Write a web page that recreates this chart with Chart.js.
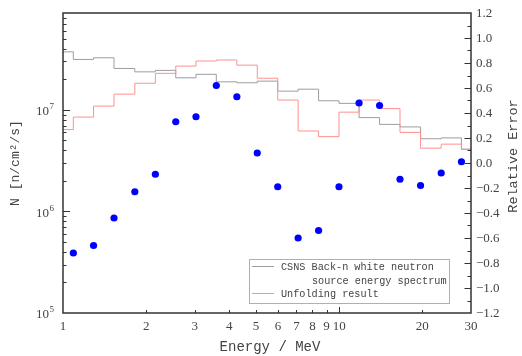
<!DOCTYPE html>
<html>
<head>
<meta charset="utf-8">
<script src="https://cdn.jsdelivr.net/npm/chart.js@4.4.1/dist/chart.umd.min.js"></script>
<style>
  html, body { margin: 0; padding: 0; background: #fff; }
  #wrap { position: relative; width: 522px; height: 356px; }
</style>
</head>
<body>
<div id="wrap"><canvas id="chart"></canvas></div>
<script>
// Energy bins (MeV): start of each bin, last bin runs to the axis end
const binStarts = [1, 1.09, 1.29, 1.53, 1.82, 2.16, 2.56, 3.03, 3.59, 4.26, 5.05,
                   5.99, 7.10, 8.42, 9.98, 11.8, 14.0, 16.6, 19.7, 23.4, 27.7];
const binEnd = 30;

// N [n/cm2/s] per bin
const spectrumFlux = [3.73e7, 3.14e7, 3.26e7, 2.56e7, 2.37e7, 2.45e7, 2.07e7, 2.24e7, 1.89e7, 1.85e7, 1.92e7,
                      1.53e7, 1.60e7, 1.23e7, 1.16e7, 8.4e6, 7.2e6, 6.8e6, 5.2e6, 5.3e6, 4.1e6];
const unfoldedFlux = [6.4e6, 8.5e6, 1.09e7, 1.43e7, 1.83e7, 2.29e7, 2.70e7, 3.03e7, 3.10e7, 2.76e7, 2.05e7,
                      1.25e7, 6.2e6, 5.45e6, 9.5e6, 1.25e7, 1.03e7, 6.0e6, 4.2e6, 4.6e6, 4.1e6];

// relative error, one point at each inner bin edge
const errorEnergy = binStarts.slice(1);
const relError = [-0.72, -0.66, -0.44, -0.23, -0.09, 0.33, 0.37, 0.62, 0.53, 0.08,
                  -0.19, -0.60, -0.54, -0.19, 0.48, 0.46, -0.13, -0.18, -0.08, 0.01];

// Tick labels
const xTickValues = [1, 2, 3, 4, 5, 6, 7, 8, 9, 10, 20, 30];
const xTickLabels = ['1', '2', '3', '4', '5', '6', '7', '8', '9', '10', '20', '30'];
const yTickExponents = [5, 6, 7];
const errTickValues = [1.2, 1.0, 0.8, 0.6, 0.4, 0.2, 0.0, -0.2, -0.4, -0.6, -0.8, -1.0, -1.2];
const errTickLabels = ['1.2', '1.0', '0.8', '0.6', '0.4', '0.2', '0.0',
                       '\u22120.2', '\u22120.4', '\u22120.6', '\u22120.8', '\u22121.0', '\u22121.2'];

const legendLabels = ['CSNS Back-n white neutron', 'source energy spectrum', 'Unfolding result'];

const GRAY = '#9d9d9d';
const RED = '#ff9090';
const BLUE = '#0000ff';
const INK = '#444';
const SERIF = '"Liberation Serif", serif';
const MONO = '"Liberation Mono", monospace';

function stepData(values) {
    const pts = binStarts.map((x, i) => ({ x: x, y: values[i] }));
    pts.push({ x: binEnd, y: values[values.length - 1] });
    return pts;
}

const sup = { 5: '\u2075', 6: '\u2076', 7: '\u2077' };

// frame, inward ticks, labels, titles and legend
const decorations = {
    id: 'decorations',
    afterDraw(chart) {
        const ctx = chart.ctx;
        const a = chart.chartArea;
        const xs = chart.scales.x, ys = chart.scales.y, es = chart.scales.y2;
        ctx.save();

        // frame
        ctx.strokeStyle = '#333';
        ctx.lineWidth = 1.5;
        ctx.strokeRect(a.left, a.top, a.right - a.left, a.bottom - a.top);

        ctx.lineWidth = 1;
        ctx.beginPath();
        // bottom ticks
        xTickValues.forEach(v => {
            if (v === 1 || v === 30) return;
            const px = Math.round(xs.getPixelForValue(v)) + 0.5;
            const len = (v === 10) ? 6 : 3;
            ctx.moveTo(px, a.bottom);
            ctx.lineTo(px, a.bottom - len);
        });
        // left log ticks
        for (let e = 5; e <= 7; e++) {
            for (let m = 1; m <= 9; m++) {
                const v = m * Math.pow(10, e);
                if (v <= 1e5 || v >= 9e7) continue;
                const py = Math.round(ys.getPixelForValue(v)) + 0.5;
                const len = (m === 1) ? 7 : 3.5;
                ctx.moveTo(a.left, py);
                ctx.lineTo(a.left + len, py);
            }
        }
        // right linear ticks
        for (let k = -11; k <= 11; k++) {
            const v = k / 10;
            const py = Math.round(es.getPixelForValue(v)) + 0.5;
            const len = (k % 2 === 0) ? 6.5 : 3.5;
            ctx.moveTo(a.right, py);
            ctx.lineTo(a.right - len, py);
        }
        ctx.stroke();

        ctx.fillStyle = INK;
        ctx.textBaseline = 'middle';

        // x tick labels
        ctx.font = '13px ' + SERIF;
        ctx.textAlign = 'center';
        xTickValues.forEach((v, i) => {
            ctx.fillText(xTickLabels[i], xs.getPixelForValue(v), a.bottom + 14);
        });

        // left tick labels 10^n
        yTickExponents.forEach(e => {
            const py = ys.getPixelForValue(Math.pow(10, e));
            ctx.textAlign = 'right';
            ctx.font = '9px ' + SERIF;
            const expW = ctx.measureText(String(e)).width;
            ctx.fillText(String(e), 54, py - 3);
            ctx.font = '13px ' + SERIF;
            ctx.fillText('10', 54 - expW - 0.5, py + 2);
        });

        // right tick labels
        ctx.textAlign = 'left';
        ctx.font = '13px ' + SERIF;
        errTickValues.forEach((v, i) => {
            ctx.fillText(errTickLabels[i], a.right + 5, es.getPixelForValue(v) + 1);
        });

        // axis titles
        ctx.font = '14px ' + MONO;
        ctx.textAlign = 'center';
        ctx.fillText('Energy / MeV', (a.left + a.right) / 2 + 3, 347);

        ctx.save();
        ctx.translate(16, (a.top + a.bottom) / 2);
        ctx.rotate(-Math.PI / 2);
        ctx.font = '13px ' + MONO;
        ctx.fillText('N [n/cm\u00b2/s]', 0, 0);
        ctx.restore();

        ctx.save();
        ctx.translate(513, 156);
        ctx.rotate(-Math.PI / 2);
        ctx.font = '13.5px ' + MONO;
        ctx.fillText('Relative Error', 0, 0);
        ctx.restore();

        // legend
        const lx = 249.5, ly = 259.5, lw = 200, lh = 44;
        ctx.fillStyle = '#fff';
        ctx.fillRect(lx, ly, lw, lh);
        ctx.strokeStyle = '#b0b0b0';
        ctx.lineWidth = 1;
        ctx.strokeRect(lx, ly, lw, lh);

        ctx.lineWidth = 1;
        ctx.strokeStyle = GRAY;
        ctx.beginPath();
        ctx.moveTo(252, 266.5);
        ctx.lineTo(274, 266.5);
        ctx.stroke();
        ctx.strokeStyle = RED;
        ctx.beginPath();
        ctx.moveTo(252, 293.5);
        ctx.lineTo(274, 293.5);
        ctx.stroke();

        ctx.fillStyle = INK;
        ctx.textAlign = 'left';
        ctx.font = '10.2px ' + MONO;
        ctx.fillText(legendLabels[0], 281, 267);
        ctx.fillText(legendLabels[1], 312, 281);
        ctx.fillText(legendLabels[2], 281, 294);

        ctx.restore();
    }
};

const chart = new Chart(document.getElementById('chart').getContext('2d'), {
    type: 'line',
    data: {
        datasets: [
            {
                label: 'Relative Error',
                data: errorEnergy.map((x, i) => ({ x: x, y: relError[i] })),
                yAxisID: 'y2',
                showLine: false,
                pointRadius: 3.6,
                pointBackgroundColor: BLUE,
                pointBorderWidth: 0,
                order: 0
            },
            {
                label: 'Unfolding result',
                data: stepData(unfoldedFlux),
                yAxisID: 'y',
                stepped: true,
                borderColor: RED,
                borderWidth: 1,
                pointRadius: 0,
                fill: false,
                order: 1
            },
            {
                label: 'CSNS Back-n white neutron source energy spectrum',
                data: stepData(spectrumFlux),
                yAxisID: 'y',
                stepped: true,
                borderColor: GRAY,
                borderWidth: 1,
                pointRadius: 0,
                fill: false,
                order: 2
            }
        ]
    },
    options: {
        responsive: true,
        maintainAspectRatio: false,
        animation: false,
        layout: { padding: { left: 63, right: 51, top: 13, bottom: 43 } },
        scales: {
            x: { type: 'logarithmic', min: 1, max: 30, display: false },
            y: { type: 'logarithmic', min: 1e5, max: 9e7, display: false },
            y2: { type: 'linear', position: 'right', min: -1.2, max: 1.2, display: false }
        },
        plugins: {
            legend: { display: false },
            tooltip: { enabled: false }
        }
    },
    plugins: [decorations]
});
</script>
</body>
</html>
